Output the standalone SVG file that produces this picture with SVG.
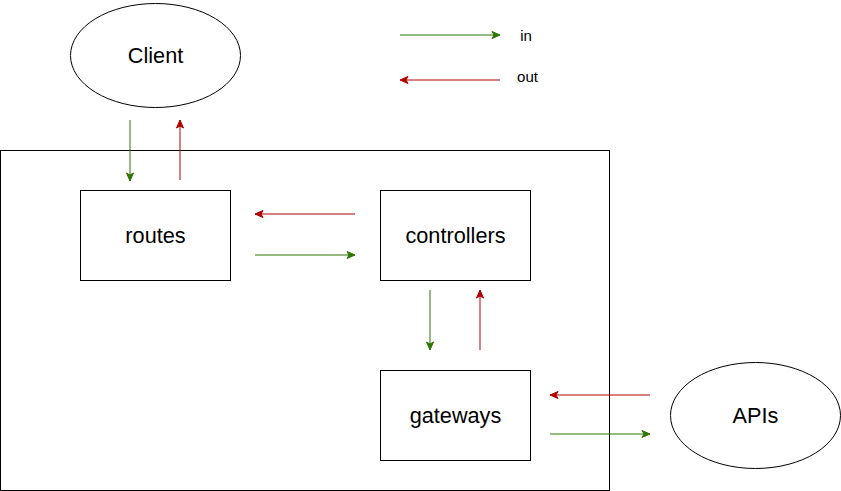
<svg xmlns="http://www.w3.org/2000/svg" width="841" height="491" viewBox="0 0 841 491">
<style>
.box{fill:#fff;stroke:#000;stroke-width:1}
.lbl{font-family:"Liberation Sans",Arial,sans-serif;font-size:21.7px;fill:#000;text-anchor:middle;dominant-baseline:central}
.small{font-family:"Liberation Sans",Arial,sans-serif;font-size:15px;fill:#000;text-anchor:middle;dominant-baseline:central}
.in{stroke:#2D7600;stroke-width:1;fill:none;marker-end:url(#ag)}
.out{stroke:#B20000;stroke-width:1;fill:none;marker-end:url(#ar)}
</style>
<defs>
<marker id="ag" markerUnits="userSpaceOnUse" markerWidth="12" markerHeight="10" refX="9" refY="5" orient="auto">
<path d="M1,1.5 L9,5 L1,8.5 L3,5 Z" fill="#2D7600" stroke="#2D7600" stroke-width="1"/>
</marker>
<marker id="ar" markerUnits="userSpaceOnUse" markerWidth="12" markerHeight="10" refX="9" refY="5" orient="auto">
<path d="M1,1.5 L9,5 L1,8.5 L3,5 Z" fill="#B20000" stroke="#B20000" stroke-width="1"/>
</marker>
</defs>
<rect width="841" height="491" fill="#fff"/>
<g id="container"><rect class="box" x="0.5" y="150.5" width="609" height="340"/></g>
<g id="client"><ellipse class="box" cx="155.5" cy="55.5" rx="85" ry="52"/><text class="lbl" x="155.5" y="55.5">Client</text></g>
<g id="routes"><rect class="box" x="80.5" y="190.5" width="150" height="90"/><text class="lbl" x="155.5" y="235.5">routes</text></g>
<g id="controllers"><rect class="box" x="380.5" y="190.5" width="150" height="90"/><text class="lbl" x="455.5" y="235.5">controllers</text></g>
<g id="gateways"><rect class="box" x="380.5" y="370.5" width="150" height="90"/><text class="lbl" x="455.5" y="415.5">gateways</text></g>
<g id="apis"><ellipse class="box" cx="755.5" cy="415.5" rx="85" ry="53"/><text class="lbl" x="755.5" y="415.5">APIs</text></g>
<g id="legend">
<text class="small" x="526" y="35">in</text>
<text class="small" x="527.5" y="76">out</text>
</g>
<g id="connectors">
<path class="in" d="M400,35 L500,35"/>
<path class="out" d="M500,80 L400,80"/>
<path class="in" d="M130,120 L130,181"/>
<path class="out" d="M180,180 L180,120"/>
<path class="out" d="M355,214 L255,214"/>
<path class="in" d="M255,255 L355,255"/>
<path class="in" d="M430,290 L430,350"/>
<path class="out" d="M480,350 L480,290"/>
<path class="out" d="M650,395 L550,395"/>
<path class="in" d="M550,434 L650,434"/>
</g>
</svg>
